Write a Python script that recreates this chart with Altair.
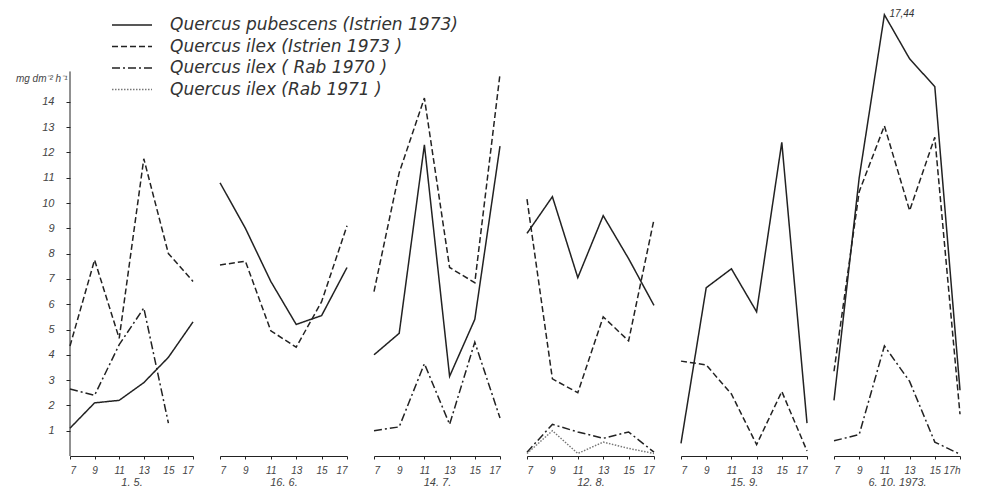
import altair as alt
import pandas as pd

hours = [7, 9, 11, 13, 15, 17]
dates = ["1. 5.", "16. 6.", "14. 7.", "12. 8.", "15. 9.", "6. 10. 1973."]
series_names = [
    "Quercus pubescens (Istrien 1973)",
    "Quercus ilex (Istrien 1973 )",
    "Quercus ilex ( Rab 1970 )",
    "Quercus ilex (Rab 1971 )",
]

# Quercus pubescens (Istrien 1973) - solid
pubescens_istrien_1973 = {
    "1. 5.": [1.1, 2.1, 2.2, 2.9, 3.9, 5.3],
    "16. 6.": [10.8, 9.0, 6.9, 5.2, 5.55, 7.45],
    "14. 7.": [4.0, 4.85, 12.3, 3.15, 5.4, 12.25],
    "12. 8.": [8.8, 10.25, 7.05, 9.5, 7.8, 5.95],
    "15. 9.": [0.5, 6.65, 7.4, 5.7, 12.4, 1.3],
    "6. 10. 1973.": [2.2, 11.0, 17.44, 15.7, 14.6, 2.6],
}
# Quercus ilex (Istrien 1973) - dashed
ilex_istrien_1973 = {
    "1. 5.": [4.35, 7.75, 4.65, 11.75, 8.0, 6.9],
    "16. 6.": [7.55, 7.7, 4.95, 4.3, 6.1, 9.1],
    "14. 7.": [6.5, 11.2, 14.15, 7.45, 6.85, 15.1],
    "12. 8.": [10.15, 3.05, 2.5, 5.5, 4.55, 9.35],
    "15. 9.": [3.75, 3.6, 2.45, 0.45, 2.55, 0.2],
    "6. 10. 1973.": [3.35, 10.45, 13.05, 9.7, 12.6, 1.65],
}
# Quercus ilex (Rab 1970) - dash-dot
ilex_rab_1970 = {
    "1. 5.": [2.65, 2.4, 4.4, 5.85, 1.3, None],
    "14. 7.": [1.0, 1.15, 3.65, 1.25, 4.5, 1.5],
    "12. 8.": [0.15, 1.25, 0.95, 0.7, 0.95, 0.15],
    "6. 10. 1973.": [0.6, 0.85, 4.35, 2.95, 0.55, 0.07],
}
# Quercus ilex (Rab 1971) - dotted
ilex_rab_1971 = {
    "12. 8.": [0.1, 1.0, 0.1, 0.55, 0.3, 0.1],
}

peak_label = "17,44"
peak_date = "6. 10. 1973."
peak_hour = 11
axis_top = 15.2
y_max = 17.51
panel_widths = [123, 127, 126, 127, 126, 126]

rows = []
for name, table in zip(series_names, [pubescens_istrien_1973, ilex_istrien_1973,
                                      ilex_rab_1970, ilex_rab_1971]):
    for d, vals in table.items():
        for h, v in zip(hours, vals):
            if v is not None:
                rows.append({"date": d, "hour": h, "value": v, "series": name})
df = pd.DataFrame(rows)

FONT = "Liberation Sans"
LEGEND_FONT = "DejaVu Sans"
INK = "#222222"

yscale = alt.Scale(domain=[0, y_max], nice=False, zero=True)
xscale = alt.Scale(domain=[7, 17], nice=False, zero=False)
dash_scale = alt.Scale(domain=series_names,
                       range=[[1, 0], [6, 3], [8, 3, 2, 3], [1.5, 1.5]])
color_scale = alt.Scale(domain=series_names,
                        range=[INK, INK, INK, "#777777"])

legend = alt.Legend(
    title=None, orient="none", legendX=51, legendY=1,
    symbolType="M-2,0L2,0", symbolSize=400, symbolStrokeWidth=1.3,
    labelFont=LEGEND_FONT, labelFontSize=17, labelFontStyle="italic",
    labelColor="#333333", rowPadding=2.5, labelOffset=27, labelLimit=0,
)

yaxis = alt.Axis(
    values=list(range(1, 15)), domain=False, grid=False, labelOverlap=False,
    tickSize=4, tickColor=INK, labelPadding=12,
    labelFont=FONT, labelFontSize=11, labelFontStyle="italic",
    labelColor="#444444",
    title="mg dm⁻² h⁻¹", titleAngle=0, titleAlign="right",
    titleBaseline="middle", titleX=-3, titleY=65,
    titleFont=FONT, titleFontSize=10, titleFontStyle="italic",
    titleFontWeight="normal", titleColor="#444444",
)


def make_xaxis(d, last):
    return alt.Axis(
        values=hours, grid=False, domainColor=INK, tickColor=INK, tickSize=3,
        labelOverlap=False,
        labelFont=FONT, labelFontSize=10, labelFontStyle="italic",
        labelColor="#444444", labelPadding=6,
        labelExpr="datum.value == 17 ? '17h' : datum.label" if last else "datum.label",
        title=d, titleFont=FONT, titleFontSize=11, titleFontStyle="italic",
        titleFontWeight="normal", titleColor="#444444", titlePadding=1,
    )


def make_panel(i, d):
    sub = df[df["date"] == d]
    last = i == len(dates) - 1
    xaxis = make_xaxis(d, last)
    ya = yaxis if i == 0 else None
    lines = alt.Chart(sub).mark_line(strokeWidth=1.5).encode(
        x=alt.X("hour:Q", scale=xscale, axis=xaxis),
        y=alt.Y("value:Q", scale=yscale, axis=ya),
        strokeDash=alt.StrokeDash("series:N", scale=dash_scale, legend=legend),
        color=alt.Color("series:N", scale=color_scale, legend=legend),
        order="hour:Q",
    )
    layers = [lines]
    if i == 0:
        ax = alt.Chart(pd.DataFrame({"a": [0]})).mark_rule(color=INK, strokeWidth=1).encode(
            x=alt.value(0),
            y=alt.Y(datum=0, scale=yscale, axis=ya),
            y2=alt.Y2(datum=axis_top),
        )
        layers.append(ax)
    if d == peak_date:
        pk = sub[(sub["hour"] == peak_hour) & (sub["series"] == series_names[0])]
        txt = alt.Chart(pk).mark_text(
            text=peak_label, font=FONT, fontSize=10, fontStyle="italic",
            color="#333333", align="left", baseline="middle", dx=5, dy=-1,
        ).encode(
            x=alt.X("hour:Q", scale=xscale, axis=xaxis),
            y=alt.Y("value:Q", scale=yscale, axis=ya),
        )
        layers.append(txt)
    return alt.layer(*layers).properties(width=panel_widths[i], height=443)


chart = alt.hconcat(*[make_panel(i, d) for i, d in enumerate(dates)],
                    spacing=27, bounds="flush").configure(
    background="white",
    padding={"left": 7, "top": 0, "right": 0, "bottom": 0},
    view=alt.ViewConfig(stroke=None),
)

chart.save("out.html", embed_options={"renderer": "svg", "actions": False})
